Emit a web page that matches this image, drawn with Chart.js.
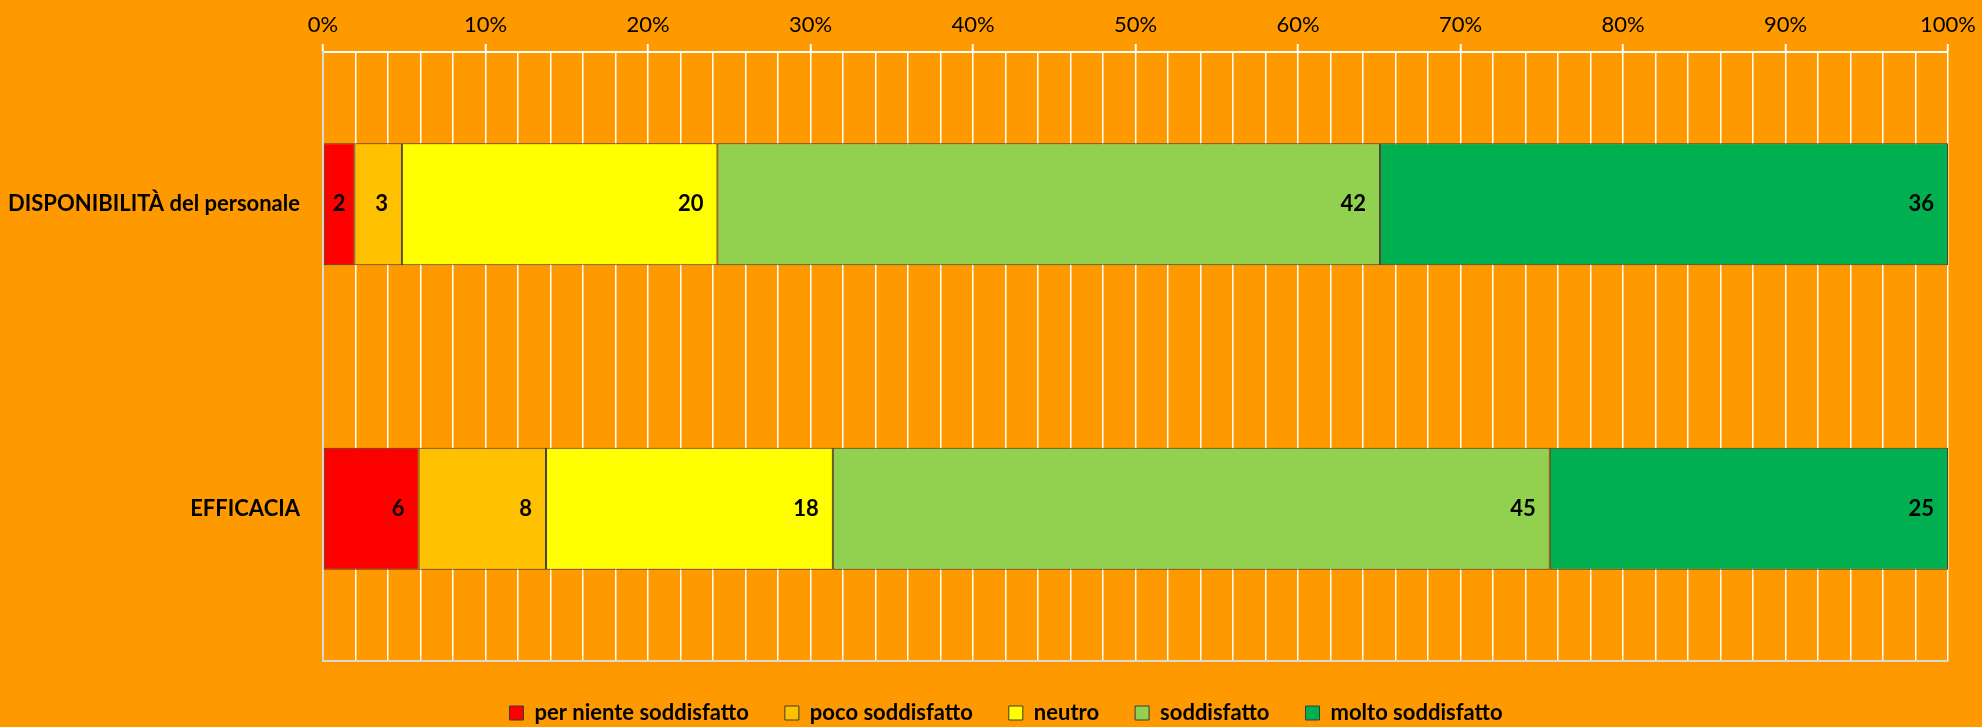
<!DOCTYPE html>
<html>
<head>
<meta charset="utf-8">
<script src="https://cdn.jsdelivr.net/npm/chart.js@4"></script>
<style>
  html, body { margin: 0; padding: 0; background: #FF9900; }
</style>
</head>
<body>
<canvas id="chart" width="1982" height="727"></canvas>
<script>
const categories = ["DISPONIBILITÀ del personale", "EFFICACIA"];
const seriesNames = ["per niente soddisfatto", "poco soddisfatto", "neutro", "soddisfatto", "molto soddisfatto"];
const perNiente = [2, 6];
const poco = [3, 8];
const neutro = [20, 18];
const soddisfatto = [42, 45];
const molto = [36, 25];
const seriesColors = ["#FF0000", "#FFC000", "#FFFF00", "#92D050", "#00B050"];

const FONT = "Lato";
const allSeries = [perNiente, poco, neutro, soddisfatto, molto];

// 100% stacked: each bar is the share of its category total
const totals = categories.map((c, i) => allSeries.reduce((s, arr) => s + arr[i], 0));

const datasets = allSeries.map((arr, k) => ({
  label: seriesNames[k],
  raw: arr,
  data: arr.map((v, i) => v / totals[i] * 100),
  backgroundColor: seriesColors[k],
  borderColor: "#3a3a3a",
  borderWidth: 1,
  borderSkipped: false,
  barPercentage: 0.4,
  categoryPercentage: 1,
}));

// value labels at the inside end of each segment
const valueLabels = {
  id: "valueLabels",
  afterDatasetsDraw(chart) {
    const ctx = chart.ctx;
    ctx.save();
    ctx.font = `bold 22px ${FONT}`;
    ctx.fillStyle = "#000";
    ctx.textBaseline = "middle";
    chart.data.datasets.forEach((ds, k) => {
      chart.getDatasetMeta(k).data.forEach((bar, i) => {
        const txt = String(ds.raw[i]);
        const w = ctx.measureText(txt).width;
        const segW = bar.x - bar.base;
        if (segW < w + 26) {
          ctx.textAlign = "center";
          ctx.fillText(txt, bar.base + segW / 2, bar.y);
        } else {
          ctx.textAlign = "right";
          ctx.fillText(txt, bar.x - 14, bar.y);
        }
      });
    });
    ctx.restore();
  }
};

// light bottom edge of the plot area
const frame = {
  id: "frame",
  beforeDatasetsDraw(chart) {
    const {ctx, chartArea} = chart;
    ctx.save();
    ctx.strokeStyle = "#D9D9D9";
    ctx.lineWidth = 2;
    ctx.beginPath();
    ctx.moveTo(chartArea.left, chartArea.bottom);
    ctx.lineTo(chartArea.right, chartArea.bottom);
    ctx.stroke();
    ctx.restore();
  }
};

const legendBox = {
  id: "legendBox",
  beforeInit(chart) {
    const orig = chart.legend.fit;
    chart.legend.fit = function () {
      orig.bind(chart.legend)();
      this.height = 66;
    };
  },
  afterLayout(chart) {
    chart.legend.top += 5;
    chart.legend.bottom += 5;
    chart.legend.left += 31;
    chart.legend.right += 31;
  }
};

const config = {
  type: "bar",
  data: { labels: categories, datasets: datasets },
  options: {
    indexAxis: "y",
    responsive: false,
    animation: false,
    layout: { padding: { left: 0, right: 32, top: 0, bottom: 0 } },
    scales: {
      x: {
        position: "top",
        stacked: true,
        min: 0,
        max: 100,
        afterFit: (scale) => { scale.height = 52; },
        ticks: {
          stepSize: 2,
          autoSkip: false,
          maxRotation: 0,
          minRotation: 0,
          padding: 6,
          color: "#000",
          font: { family: FONT, size: 22 },
          callback: (v) => (Math.round(v) % 10 === 0 ? Math.round(v) + "%" : ""),
        },
        grid: {
          color: "#FFFFFF",
          lineWidth: 1.5,
          drawTicks: true,
          tickLength: 8,
          tickWidth: 2,
          tickColor: (c) => (c.tick && Math.round(c.tick.value) % 10 === 0 ? "#FFFFFF" : "rgba(0,0,0,0)"),
        },
        border: { display: true, color: "#FFFFFF", width: 2 },
      },
      y: {
        stacked: true,
        afterFit: (scale) => { scale.width = 323; },
        ticks: {
          padding: 15,
          color: "#000",
          font: { family: FONT, size: 22, weight: "bold" },
        },
        grid: { display: false },
        border: { display: true, color: "#D9D9D9", width: 2 },
      },
    },
    plugins: {
      legend: {
        position: "bottom",
        labels: {
          boxWidth: 14,
          boxHeight: 14,
          padding: 36,
          color: "#000",
          font: { family: FONT, size: 22, weight: "bold" },
        },
      },
      tooltip: { enabled: false },
    },
  },
  plugins: [valueLabels, frame, legendBox],
};

new Chart(document.getElementById("chart"), config);
</script>
</body>
</html>
